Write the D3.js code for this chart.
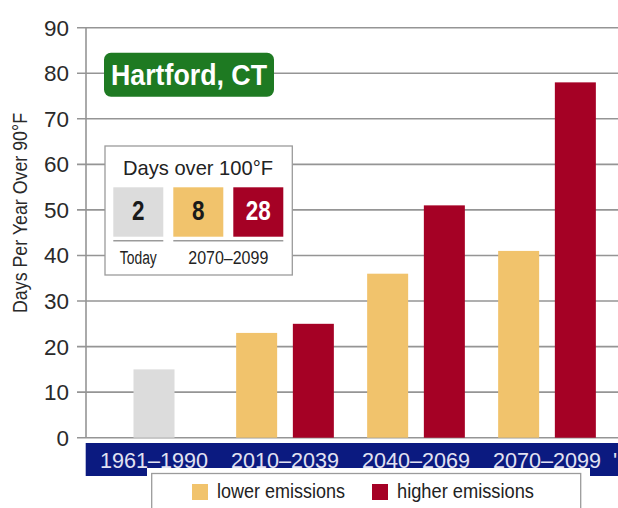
<!DOCTYPE html>
<html>
<head>
<meta charset="utf-8">
<script src="https://cdn.jsdelivr.net/npm/d3@7"></script>
<style>
  html, body { margin: 0; padding: 0; background: #ffffff; }
  svg { display: block; font-family: "Liberation Sans", Arial, sans-serif; }
</style>
</head>
<body>
<svg id="chart" width="618" height="508"></svg>
<script>
// ---- data ----
const periods = ["1961–1990", "2010–2039", "2040–2069", "2070–2099"];
const historical = [15, null, null, null];
const lowerEmissions = [null, 23, 36, 41];
const higherEmissions = [null, 25, 51, 78];
const yTicks = [0, 10, 20, 30, 40, 50, 60, 70, 80, 90];
const insetLabels = ["Today", "lower", "higher"];
const insetValues = ["2", "8", "28"];
const legendLabels = ["lower emissions", "higher emissions"];

const colors = { historical: "#dcdcdc", lower: "#f1c36c", higher: "#a50125" };

const svg = d3.select("#chart");

const y = d3.scaleLinear().domain([0, 90]).range([437.7, 27.7]);
const x0 = d3.scaleBand().domain(periods).range([88.5, 612.5]).padding(0);
const x1 = d3.scaleBand().domain(["lower", "higher"]).range([-48.85, 48.85]).paddingInner(0.277).paddingOuter(0);
const bw = x1.bandwidth();

// gridlines + ticks
const grid = svg.append("g");
grid.selectAll("line.grid").data(yTicks).join("line")
  .attr("x1", 77).attr("x2", 618)
  .attr("y1", d => y(d)).attr("y2", d => y(d))
  .attr("stroke", "#959595").attr("stroke-width", 1.6);
grid.append("line")
  .attr("x1", 86).attr("x2", 86)
  .attr("y1", y(90)).attr("y2", y(0))
  .attr("stroke", "#959595").attr("stroke-width", 1.6);

svg.append("g").selectAll("text").data(yTicks).join("text")
  .attr("x", 69).attr("y", d => y(d)).attr("dy", "0.36em")
  .attr("text-anchor", "end")
  .attr("font-size", 22).attr("fill", "#2a2a2a")
  .attr("textLength", d => String(d).length * 12.5).attr("lengthAdjust", "spacingAndGlyphs")
  .text(d => d);

// y axis title
svg.append("text")
  .attr("transform", "translate(27,213) rotate(-90)")
  .attr("text-anchor", "middle")
  .attr("font-size", 20).attr("fill", "#2a2a2a")
  .attr("textLength", 200).attr("lengthAdjust", "spacingAndGlyphs")
  .text("Days Per Year Over 90°F");

// bars
const bars = svg.append("g");
bars.selectAll("rect.hist").data(periods.filter((p, i) => historical[i] != null)).join("rect")
  .attr("x", p => x0(p) + x0.bandwidth() / 2 - bw / 2)
  .attr("y", p => y(historical[periods.indexOf(p)]))
  .attr("width", bw)
  .attr("height", p => y(0) - y(historical[periods.indexOf(p)]))
  .attr("fill", colors.historical);

const series = [
  { key: "lower", values: lowerEmissions },
  { key: "higher", values: higherEmissions }
];
series.forEach(s => {
  bars.selectAll("rect." + s.key)
    .data(periods.map((p, i) => ({ p, v: s.values[i] })).filter(d => d.v != null))
    .join("rect")
    .attr("x", d => x0(d.p) + x0.bandwidth() / 2 + x1(s.key))
    .attr("y", d => y(d.v))
    .attr("width", bw)
    .attr("height", d => y(0) - y(d.v))
    .attr("fill", colors[s.key]);
});

// navy category band
svg.append("rect")
  .attr("x", 85.7).attr("y", 443).attr("width", 618 - 85.7).attr("height", 33)
  .attr("fill", "#0b1a80");
svg.append("g").selectAll("text").data(periods).join("text")
  .attr("x", p => x0(p) + x0.bandwidth() / 2)
  .attr("y", 468)
  .attr("text-anchor", "middle")
  .attr("font-size", 22).attr("fill", "#e2e2f2")
  .attr("textLength", 108).attr("lengthAdjust", "spacingAndGlyphs")
  .text(p => p);
svg.append("text").attr("x", 613).attr("y", 468)
  .attr("font-size", 22).attr("fill", "#e2e2f2").text("'");

// legend
svg.append("rect").attr("x", 147).attr("y", 468).attr("width", 443).attr("height", 60).attr("fill", "#fff");
svg.append("rect").attr("x", 151.7).attr("y", 473.5).attr("width", 429).attr("height", 60)
  .attr("fill", "#fff").attr("stroke", "#9b9b9b").attr("stroke-width", 1.3);
const legX = [192, 372];
const legW = [128, 137];
legendLabels.forEach((lab, i) => {
  svg.append("rect").attr("x", legX[i]).attr("y", 484).attr("width", 16).attr("height", 16)
    .attr("fill", i === 0 ? colors.lower : colors.higher);
  svg.append("text").attr("x", legX[i] + 25).attr("y", 498)
    .attr("font-size", 20).attr("fill", "#222")
    .attr("textLength", legW[i]).attr("lengthAdjust", "spacingAndGlyphs")
    .text(lab);
});

// title box
svg.append("rect").attr("x", 104).attr("y", 52.7).attr("width", 170).attr("height", 44)
  .attr("rx", 7).attr("fill", "#1e7a22");
svg.append("text").attr("x", 189).attr("y", 85)
  .attr("text-anchor", "middle").attr("font-size", 29).attr("font-weight", "bold")
  .attr("fill", "#fff")
  .attr("textLength", 156).attr("lengthAdjust", "spacingAndGlyphs")
  .text("Hartford, CT");

// inset box
svg.append("rect").attr("x", 105).attr("y", 146).attr("width", 187.3).attr("height", 129)
  .attr("fill", "#fff").attr("stroke", "#9b9b9b").attr("stroke-width", 1.3);
svg.append("text").attr("x", 198).attr("y", 175)
  .attr("text-anchor", "middle").attr("font-size", 21).attr("fill", "#222")
  .attr("textLength", 150).attr("lengthAdjust", "spacingAndGlyphs")
  .text("Days over 100°F");

const xi = d3.scaleBand().domain(insetLabels).range([113.3, 283.3]).paddingInner(1 / 6).paddingOuter(0);
const insetFill = [colors.historical, colors.lower, colors.higher];
const insetText = ["#1a1a1a", "#1a1a1a", "#ffffff"];
insetLabels.forEach((k, i) => {
  svg.append("rect").attr("x", xi(k)).attr("y", 187.3).attr("width", xi.bandwidth()).attr("height", 49.4)
    .attr("fill", insetFill[i]);
  svg.append("text").attr("x", xi(k) + xi.bandwidth() / 2).attr("y", 220)
    .attr("text-anchor", "middle").attr("font-size", 27).attr("font-weight", "bold")
    .attr("fill", insetText[i])
    .attr("textLength", insetValues[i].length * 12.5).attr("lengthAdjust", "spacingAndGlyphs")
    .text(insetValues[i]);
});
// underlines
svg.append("line").attr("x1", xi("Today")).attr("x2", xi("Today") + xi.bandwidth())
  .attr("y1", 240.7).attr("y2", 240.7).attr("stroke", "#9b9b9b").attr("stroke-width", 1.5);
svg.append("line").attr("x1", xi("lower")).attr("x2", xi("higher") + xi.bandwidth())
  .attr("y1", 240.7).attr("y2", 240.7).attr("stroke", "#9b9b9b").attr("stroke-width", 1.5);
svg.append("text").attr("x", xi("Today") + xi.bandwidth() / 2).attr("y", 264)
  .attr("text-anchor", "middle").attr("font-size", 18).attr("fill", "#222")
  .attr("textLength", 37).attr("lengthAdjust", "spacingAndGlyphs")
  .text("Today");
svg.append("text").attr("x", (xi("lower") + xi("higher") + xi.bandwidth()) / 2).attr("y", 264)
  .attr("text-anchor", "middle").attr("font-size", 18).attr("fill", "#222")
  .attr("textLength", 80).attr("lengthAdjust", "spacingAndGlyphs")
  .text("2070–2099");
</script>
</body>
</html>
